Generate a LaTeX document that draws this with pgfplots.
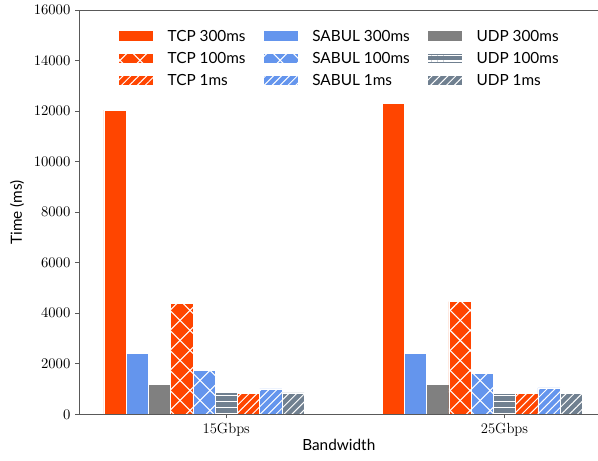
\documentclass[border=0pt]{standalone}
\usepackage{fontspec}
\newfontfamily\sansf{Lato}
\usepackage{pgfplots}
\pgfplotsset{compat=1.18}
\usetikzlibrary{patterns.meta,calc}
\definecolor{tcp}{HTML}{FF4500}
\definecolor{sabul}{HTML}{6495ED}
\definecolor{udpa}{HTML}{808080}
\definecolor{udpb}{HTML}{708090}
\pgfplotsset{
  mybar/.style={ybar, bar width=0.08, bar shift=0pt, draw=white, line width=0.5pt,
    legend image code/.code={\draw[##1] (0pt,-4pt) rectangle (26pt,4pt);}},
  hatchx/.style={postaction={pattern={Lines[angle=45,distance=10.6pt,line width=0.8pt]}, pattern color=white},
                 postaction={pattern={Lines[angle=-45,distance=10.6pt,line width=0.8pt]}, pattern color=white}},
  hatchs/.style={postaction={pattern={Lines[angle=45,distance=4.2pt,line width=0.75pt]}, pattern color=white}},
  hatchh/.style={postaction={pattern={Lines[angle=0,distance=4.4pt,line width=1pt]}, pattern color=white}},
}
\begin{document}
\begin{tikzpicture}
\begin{axis}[
  scale only axis, width=389.25pt, height=303pt,
  axis on top,
  xmin=-0.529, xmax=1.338, ymin=0, ymax=16000,
  xtick={0,1}, xticklabels={15Gbps,25Gbps},
  ytick={0,2000,...,16000},
  scaled y ticks=false,
  yticklabel style={/pgf/number format/1000 sep={}, /pgf/number format/fixed},
  ticklabel style={font=\fontsize{11}{13}\selectfont},
  tick align=outside, tick pos=left, major tick length=3pt,
  axis line style={black!65, line width=0.6pt}, tick style={black!65, line width=0.6pt},
  xlabel={Bandwidth}, ylabel={Time (ms)},
  xlabel style={font=\sansf\fontsize{11.5}{13}\selectfont, at={(axis description cs:0.5,-0.0767)}, anchor=center},
  ylabel style={font=\sansf\fontsize{11.5}{13}\selectfont, at={(axis description cs:-0.1195,0.5)}, rotate=0, anchor=center},
  legend columns=3,
  legend style={draw=none, fill=none, inner sep=0pt, at={(axis description cs:0.075,0.95)}, anchor=north west,
    row sep=8pt,
    nodes={inner sep=0pt, anchor=west, font=\sansf\fontsize{11.5}{13}\selectfont, text height=8pt, text depth=0pt},
    /tikz/every odd column/.append style={column sep=10.5pt},
    /tikz/every even column/.append style={column sep=13pt}},
]
\addplot[mybar, fill=tcp] coordinates {(-0.40,12040) (0.60,12300)};
\addlegendentry{TCP 300ms}
\addplot[mybar, fill=sabul] coordinates {(-0.32,2400) (0.68,2400)};
\addlegendentry{SABUL 300ms}
\addplot[mybar, fill=udpa] coordinates {(-0.24,1170) (0.76,1170)};
\addlegendentry{UDP 300ms}
\addplot[mybar, fill=tcp, hatchx] coordinates {(-0.16,4390) (0.84,4460)};
\addlegendentry{TCP 100ms}
\addplot[mybar, fill=sabul, hatchx] coordinates {(-0.08,1730) (0.92,1620)};
\addlegendentry{SABUL 100ms}
\addplot[mybar, fill=udpb, hatchh] coordinates {(0.00,870) (1.00,830)};
\addlegendentry{UDP 100ms}
\addplot[mybar, fill=tcp, hatchs] coordinates {(0.08,830) (1.08,820)};
\addlegendentry{TCP 1ms}
\addplot[mybar, fill=sabul, hatchs] coordinates {(0.16,1010) (1.16,1050)};
\addlegendentry{SABUL 1ms}
\addplot[mybar, fill=udpb, hatchs] coordinates {(0.24,850) (1.24,820)};
\addlegendentry{UDP 1ms}
\end{axis}
\pgfresetboundingbox
\path ($(current axis.south west)+(-59.25pt,-34.5pt)$) rectangle ($(current axis.north east)+(-0.4pt,7.5pt)$);
\end{tikzpicture}
\end{document}
